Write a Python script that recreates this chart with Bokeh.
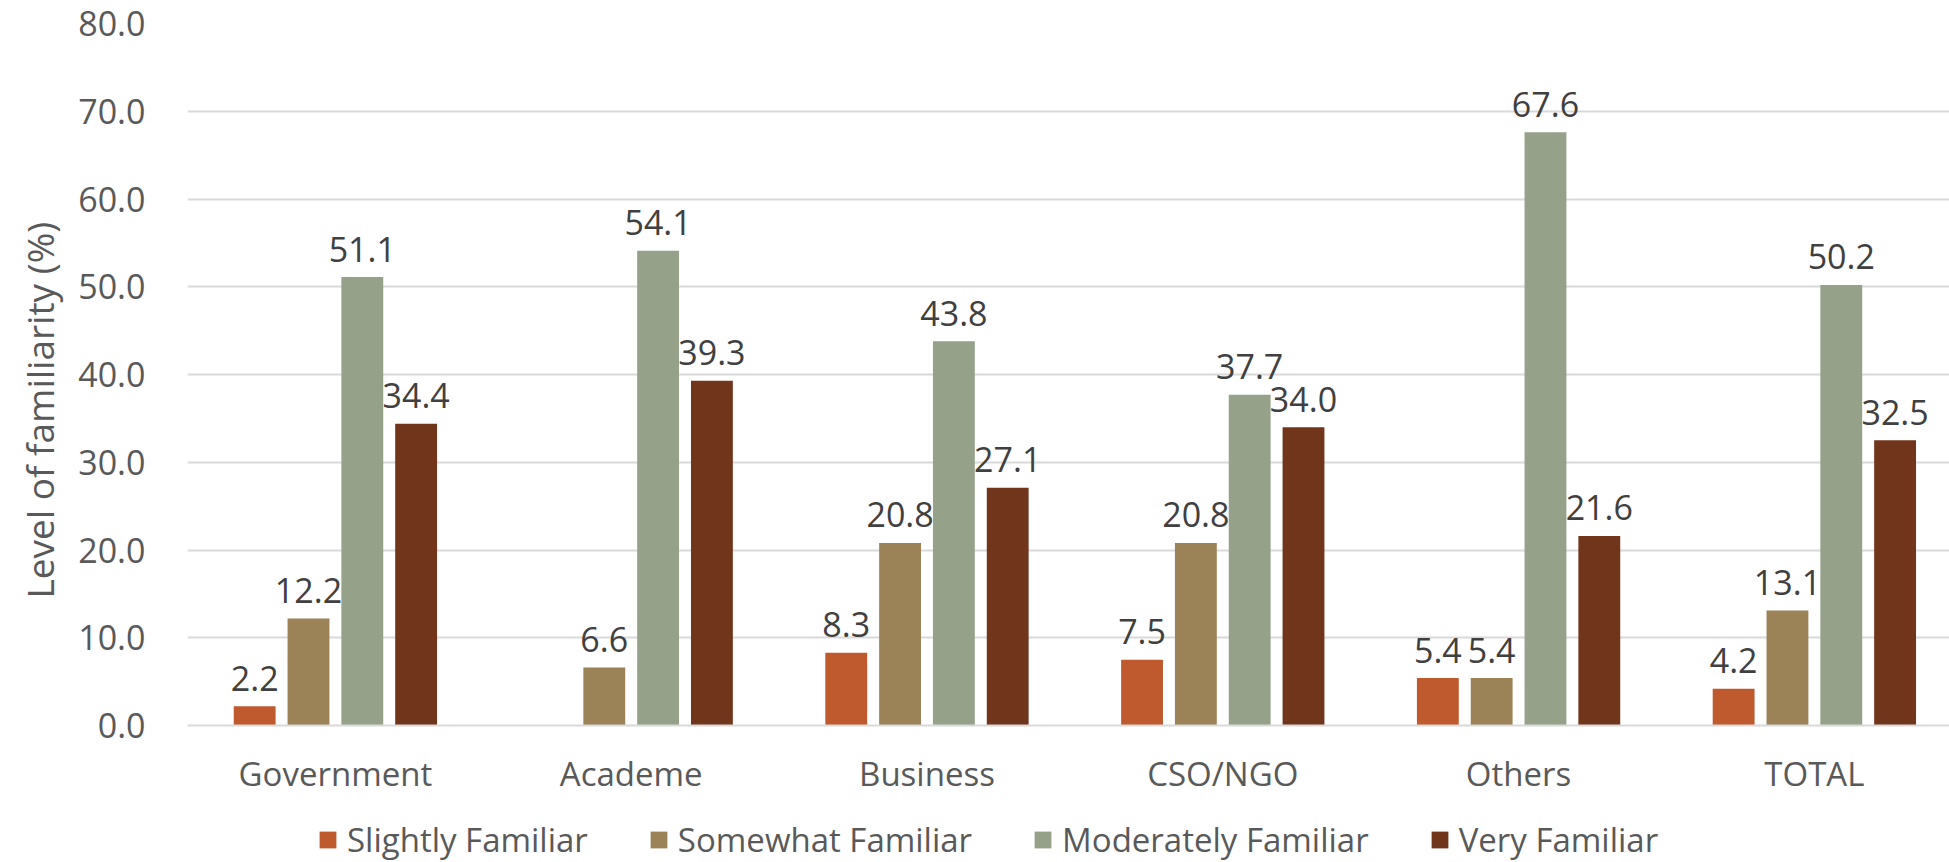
from bokeh.plotting import figure
from bokeh.layouts import column
from bokeh.models import (ColumnDataSource, Range1d, FixedTicker, NumeralTickFormatter,
                          Legend, LegendItem, Title)
from bokeh.transform import dodge
from bokeh.core.properties import value
from bokeh.embed import file_html
from bokeh.resources import INLINE

# Survey results: level of familiarity by sector (%)
categories = ["Government", "Academe", "Business", "CSO/NGO", "Others", "TOTAL"]
series_names = ["Slightly Familiar", "Somewhat Familiar", "Moderately Familiar", "Very Familiar"]
slightly = [2.2, None, 8.3, 7.5, 5.4, 4.2]
somewhat = [12.2, 6.6, 20.8, 20.8, 5.4, 13.1]
moderately = [51.1, 54.1, 43.8, 37.7, 67.6, 50.2]
very = [34.4, 39.3, 27.1, 34.0, 21.6, 32.5]
y_ticks = [0, 10, 20, 30, 40, 50, 60, 70, 80]

colors = ["#BE5A2D", "#9C8257", "#95A189", "#70351B"]
FONT = "Open Sans"

W = 1949
H_MAIN, H_LEG = 805, 57
LEFT, TOP, BOTTOM = 181, 23, 80
cat_px = 296.8                      # width of one category slot in pixels
bar_w = 42 / cat_px
step = 54 / cat_px
offsets = [-1.5 * step, -0.5 * step, 0.5 * step, 1.5 * step]

p = figure(width=W, height=H_MAIN, output_backend="svg", toolbar_location=None,
           x_range=Range1d(0, (W - LEFT) / cat_px), y_range=Range1d(0, 80),
           min_border_left=LEFT, min_border_right=0, min_border_top=TOP,
           min_border_bottom=BOTTOM)
p.outline_line_color = None
p.background_fill_color = "white"
p.border_fill_color = "white"

for name, vals, col, off in zip(series_names, [slightly, somewhat, moderately, very], colors, offsets):
    xs = [i + 0.5 for i, v in enumerate(vals) if v is not None]
    ys = [v for v in vals if v is not None]
    src = ColumnDataSource(dict(x=xs, top=ys, label=[f"{v:.1f}" for v in ys]))
    p.vbar(x=dodge("x", off), top="top", width=bar_w, bottom=0, source=src,
           fill_color=col, line_color=None)
    p.text(x=dodge("x", off), y="top", text="label", source=src,
           text_align="center", text_baseline="alphabetic", y_offset=-28,
           text_font=value(FONT), text_font_size="34px", text_color="#404040")

# axes
p.xaxis.ticker = FixedTicker(ticks=[i + 0.5 for i in range(len(categories))])
p.xaxis.major_label_overrides = {i + 0.5: c for i, c in enumerate(categories)}
p.xaxis.axis_line_color = "#D9D9D9"
p.xaxis.axis_line_width = 2
p.xaxis.major_tick_line_color = None
p.xaxis.minor_tick_line_color = None
p.xaxis.major_label_standoff = 19
p.xaxis.major_label_text_font = FONT
p.xaxis.major_label_text_font_size = "33px"
p.xaxis.major_label_text_color = "#595959"

p.yaxis.ticker = FixedTicker(ticks=y_ticks)
p.yaxis.formatter = NumeralTickFormatter(format="0.0")
p.yaxis.axis_line_color = None
p.yaxis.major_tick_line_color = None
p.yaxis.minor_tick_line_color = None
p.yaxis.major_label_standoff = 36
p.yaxis.major_label_text_font = FONT
p.yaxis.major_label_text_font_size = "34px"
p.yaxis.major_label_text_color = "#595959"

p.xgrid.grid_line_color = None
p.ygrid.grid_line_color = "#D9D9D9"
p.ygrid.grid_line_width = 2

# vertical axis title, starting a little above the bottom of the plot area
ytitle = Title(text="Level of familiarity (%)", align="left", offset=127,
               text_font=FONT, text_font_size="37px", text_font_style="normal",
               text_color="#595959", standoff=22)
p.add_layout(ytitle, "left")

# legend strip underneath the chart (its frame lines up with the chart's frame)
leg = figure(width=W, height=H_LEG, output_backend="svg", toolbar_location=None,
             x_range=Range1d(0, 1), y_range=Range1d(0, 1),
             min_border=0, x_axis_type=None, y_axis_type=None)
leg.outline_line_color = None
leg.xgrid.visible = False
leg.ygrid.visible = False
items = []
for name, col in zip(series_names, colors):
    key_src = ColumnDataSource(dict(x=[0.0], top=[0.0]))   # zero-height key swatch source
    r = leg.vbar(x="x", top="top", bottom=0, width=0, source=key_src,
                 fill_color=col, line_color=None)
    items.append(LegendItem(label=name, renderers=[r]))
legend = Legend(items=items, orientation="horizontal", location=(130, 0),
                glyph_width=21, glyph_height=21, label_standoff=9, spacing=60,
                padding=0, margin=0, border_line_color=None, background_fill_alpha=0,
                label_text_font=FONT, label_text_font_size="33px",
                label_text_color="#595959")
leg.add_layout(legend, "center")

layout = column(p, leg, spacing=0)
open("out.html", "w").write(file_html(layout, INLINE))
